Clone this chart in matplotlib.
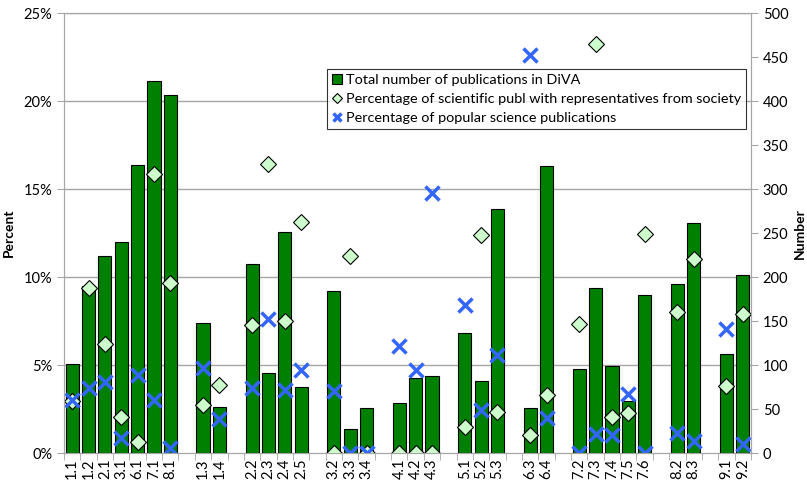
import numpy as np
import matplotlib.pyplot as plt

plt.rcParams['font.family'] = ['Lato', 'DejaVu Sans']

# None marks the empty spacer slots between groups
categories = ['1.1', '1.2', '2.1', '3.1', '6.1', '7.1', '8.1', '',
              '1.3', '1.4', '',
              '2.2', '2.3', '2.4', '2.5', '',
              '3.2', '3.3', '3.4', '',
              '4.1', '4.2', '4.3', '',
              '5.1', '5.2', '5.3', '',
              '6.3', '6.4', '',
              '7.2', '7.3', '7.4', '7.5', '7.6', '',
              '8.2', '8.3', '',
              '9.1', '9.2']

total_pubs = [101, 190, 224, 240, 327, 423, 407, None,
              148, 52, None,
              215, 91, 251, 75, None,
              184, 27, 51, None,
              57, 85, 88, None,
              137, 82, 277, None,
              51, 326, None,
              96, 188, 99, 59, 180, None,
              192, 261, None,
              113, 202]

pct_society = [2.96, 9.41, 6.2, 2.07, 0.61, 15.84, 9.64, None,
               2.71, 3.89, None,
               7.26, 16.45, 7.49, 13.14, None,
               0.0, 11.2, 0.0, None,
               0.0, 0.0, 0.0, None,
               1.48, 12.42, 2.33, None,
               1.0, 3.32, None,
               7.32, 23.24, 2.03, 2.30, 12.44, None,
               7.99, 11.04, None,
               3.81, 7.91]

pct_popular = [2.99, 3.70, 4.02, 0.87, 4.44, 3.0, 0.28, None,
               4.84, 1.92, None,
               3.70, 7.64, 3.57, 4.70, None,
               3.53, 0.0, 0.0, None,
               6.07, 4.70, 14.80, None,
               8.40, 2.43, 5.60, None,
               22.63, 1.99, None,
               0.0, 1.10, 1.0, 3.38, 0.0, None,
               1.14, 0.66, None,
               7.04, 0.53]

def arr(v):
    return np.array([np.nan if a is None else a for a in v], dtype=float)

x = np.arange(len(categories))

fig = plt.figure(figsize=(8.07, 4.86), dpi=100)
ax = fig.add_axes([0.0793, 0.0679, 0.8513, 0.9047])
ax2 = ax.twinx()
ax.set_zorder(2)
ax2.set_zorder(1)
ax.patch.set_visible(False)
ax2.patch.set_facecolor('white')

# bars on the right axis
bars = ax2.bar(x, arr(total_pubs), width=0.8, color='#008000',
               edgecolor='black', linewidth=0.8, zorder=3,
               label='Total number of publications in DiVA')
ax2.set_ylim(0, 500)
ax2.set_yticks(np.arange(0, 501, 50))
for yy in range(100, 501, 100):
    ax2.axhline(yy, color='#a6a6a6', lw=1, zorder=1)

# markers on the left axis
d, = ax.plot(x, arr(pct_society) / 100, linestyle='none', marker='D',
             markersize=8, markerfacecolor='#ccffcc', markeredgecolor='black',
             markeredgewidth=0.8,
             label='Percentage of scientific publ with representatives from society')
c, = ax.plot(x, arr(pct_popular) / 100, linestyle='none', marker='x',
             markersize=10, markeredgewidth=2.5, color='#3366ff',
             label='Percentage of popular science publications')
ax.set_ylim(0, 0.25)
ax.set_yticks(np.arange(0, 0.2501, 0.05))
ax.set_yticklabels(['%d%%' % round(v * 100) for v in np.arange(0, 0.2501, 0.05)])
ax.set_xlim(-0.5, len(categories) - 0.5)
ax.set_xticks(x)
ax.set_xticklabels(categories, rotation=90, fontsize=10.5)
ax.set_xticks(np.arange(-0.5, len(categories)), minor=True)
ax.tick_params(axis='x', which='major', length=0, pad=4)
ax.tick_params(axis='x', which='minor', length=5, color='#a6a6a6')
ax.tick_params(axis='y', length=5, color='#a6a6a6', labelsize=10.5)
ax2.tick_params(axis='y', length=5, color='#a6a6a6', labelsize=10.5)

for a in (ax, ax2):
    for s in a.spines.values():
        s.set_color('#a6a6a6')

ax.set_ylabel('Percent', fontweight='bold', fontsize=10, labelpad=6)
ax2.set_ylabel('Number', fontweight='bold', fontsize=10, labelpad=4)

leg = ax.legend(handles=[bars, d, c], loc='upper left',
                bbox_to_anchor=(0.3824, 0.8726), fontsize=10.4,
                frameon=True, fancybox=False, edgecolor='black',
                handlelength=0.7, handleheight=0.7, handletextpad=0.3,
                borderpad=0.35, labelspacing=0.45, borderaxespad=0,
                markerscale=0.6)
leg.get_frame().set_linewidth(0.8)

fig.savefig('out.png', dpi=100)
